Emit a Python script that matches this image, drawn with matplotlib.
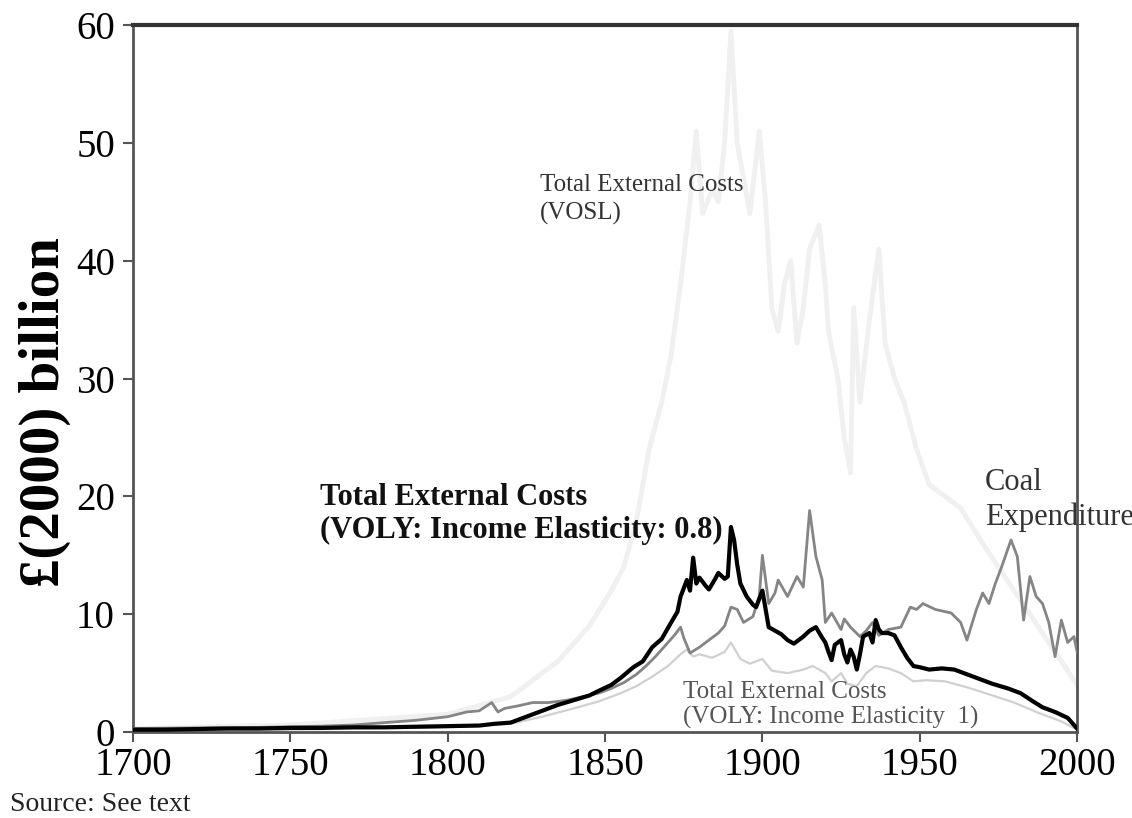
import matplotlib
matplotlib.use("Agg")
import matplotlib.pyplot as plt

# --- Total External Costs (VOLY: income elasticity 0.8), black
voly08_years = [1700, 1710, 1720, 1730, 1740, 1750, 1760, 1770, 1780, 1790,
                1800, 1810, 1815, 1820, 1825, 1830, 1835, 1840, 1845, 1848,
                1852, 1855, 1859, 1862, 1865, 1868, 1871, 1873, 1874, 1876,
                1877, 1878, 1879, 1880, 1882, 1883, 1885, 1886, 1888, 1889,
                1890, 1891, 1892, 1893, 1895, 1897, 1898, 1900, 1902, 1904,
                1906, 1908, 1910, 1913, 1915, 1917, 1919, 1920, 1921, 1922,
                1923, 1925, 1926, 1927, 1928, 1929, 1930, 1931, 1932, 1934,
                1935, 1936, 1937, 1938, 1940, 1942, 1944, 1946, 1948, 1950,
                1953, 1957, 1961, 1966, 1970, 1973, 1978, 1982, 1986, 1989,
                1993, 1997, 2000]
voly08 = [0.2, 0.2, 0.25, 0.3, 0.3, 0.35, 0.35, 0.4, 0.4, 0.45,
          0.5, 0.55, 0.7, 0.8, 1.3, 1.8, 2.3, 2.7, 3.1, 3.5,
          4.0, 4.6, 5.5, 6.0, 7.2, 7.9, 9.3, 10.2, 11.5, 12.9,
          12.0, 14.8, 12.6, 13.1, 12.4, 12.1, 13.0, 13.5, 13.0, 13.2,
          17.4, 16.3, 14.2, 12.6, 11.5, 10.8, 10.6, 12.0, 8.9, 8.6,
          8.3, 7.8, 7.5, 8.1, 8.6, 8.9, 8.0, 7.6, 6.8, 6.1,
          7.4, 7.8, 6.6, 5.9, 7.0, 6.4, 5.3, 6.6, 8.1, 8.4,
          7.6, 9.5, 8.7, 8.4, 8.4, 8.2, 7.2, 6.3, 5.6, 5.5,
          5.3, 5.4, 5.3, 4.8, 4.4, 4.1, 3.7, 3.3, 2.6, 2.1,
          1.7, 1.2, 0.3]

# --- Coal Expenditure, mid grey
coal_years = [1700, 1720, 1740, 1760, 1770, 1780, 1790, 1800, 1806, 1810,
              1814, 1816, 1818, 1822, 1827, 1832, 1838, 1843, 1848, 1852,
              1856, 1860, 1863, 1866, 1870, 1872, 1874, 1875, 1877, 1880,
              1883, 1886, 1888, 1890, 1892, 1894, 1897, 1899, 1900, 1902,
              1904, 1905, 1908, 1911, 1913, 1915, 1917, 1919, 1920, 1922,
              1925, 1926, 1928, 1931, 1933, 1935, 1937, 1940, 1944, 1947,
              1949, 1951, 1955, 1960, 1963, 1965, 1968, 1970, 1972, 1974,
              1976, 1979, 1981, 1983, 1985, 1987, 1989, 1991, 1993, 1995,
              1997, 1999, 2000]
coal = [0.3, 0.35, 0.4, 0.5, 0.6, 0.8, 1.0, 1.3, 1.7, 1.8,
        2.5, 1.7, 2.0, 2.2, 2.5, 2.5, 2.7, 3.0, 3.3, 3.7,
        4.2, 4.9, 5.6, 6.4, 7.6, 8.2, 8.9, 8.0, 6.7, 7.2,
        7.8, 8.4, 9.0, 10.6, 10.4, 9.3, 9.8, 11.5, 15.0, 10.9,
        11.8, 12.9, 11.5, 13.2, 12.3, 18.8, 14.9, 12.9, 9.3, 10.1,
        8.7, 9.6, 8.9, 8.1, 8.6, 9.3, 8.2, 8.7, 8.9, 10.6,
        10.4, 10.9, 10.4, 10.1, 9.3, 7.8, 10.4, 11.8, 10.9, 12.6,
        14.0, 16.3, 14.9, 9.5, 13.2, 11.5, 10.9, 9.3, 6.4, 9.5,
        7.6, 8.1, 6.8]

# --- Total External Costs (VOLY: income elasticity 1), light grey
voly1_years = [1700, 1750, 1800, 1820, 1830, 1840, 1848, 1855, 1860, 1865,
               1870, 1874, 1876, 1878, 1880, 1884, 1888, 1890, 1893, 1896,
               1900, 1903, 1908, 1913, 1916, 1920, 1922, 1925, 1927, 1930,
               1933, 1936, 1940, 1944, 1948, 1952, 1958, 1965, 1972, 1980,
               1988, 1995, 2000]
voly1 = [0.1, 0.2, 0.4, 0.7, 1.3, 2.0, 2.6, 3.3, 3.9, 4.7,
         5.6, 6.6, 7.0, 6.4, 6.6, 6.3, 6.8, 7.6, 6.2, 5.8,
         6.2, 5.2, 5.0, 5.3, 5.6, 5.0, 4.3, 5.0, 4.1, 3.9,
         5.0, 5.6, 5.4, 5.0, 4.3, 4.4, 4.3, 3.8, 3.2, 2.5,
         1.6, 0.9, 0.2]

# --- Total External Costs (VOSL), very faint grey
vosl_years = [1700, 1750, 1800, 1820, 1835, 1845, 1852, 1856, 1860, 1864,
              1868, 1871, 1874, 1877, 1879, 1881, 1884, 1886, 1888, 1890,
              1892, 1894, 1896, 1899, 1901, 1903, 1905, 1907, 1909, 1911,
              1913, 1915, 1918, 1920, 1921, 1924, 1926, 1928, 1929, 1931,
              1934, 1937, 1939, 1942, 1945, 1949, 1953, 1958, 1963, 1970,
              1980, 1990, 2000]
vosl = [0.3, 0.6, 1.5, 3.0, 6.0, 9.0, 12.0, 14.0, 18.0, 24.0,
        28.0, 32.0, 38.0, 45.0, 51.0, 44.0, 46.0, 45.0, 50.0, 59.5,
        50.0, 47.0, 44.0, 51.0, 45.0, 36.0, 34.0, 38.0, 40.0, 33.0,
        36.0, 41.0, 43.0, 38.0, 34.0, 30.0, 25.0, 22.0, 36.0, 28.0,
        35.0, 41.0, 33.0, 30.0, 28.0, 24.0, 21.0, 20.0, 19.0, 16.0,
        12.0, 8.0, 4.0]

x_ticks = [1700, 1750, 1800, 1850, 1900, 1950, 2000]
y_ticks = [0, 10, 20, 30, 40, 50, 60]

plt.rcParams["font.family"] = ["Liberation Serif", "DejaVu Serif"]

fig = plt.figure(figsize=(11.32, 8.18), dpi=100)
ax = fig.add_axes([0.1175, 0.1051, 0.834, 0.8643])

ax.plot(vosl_years, vosl, color="#f0f0f0", lw=3.5, zorder=1)
ax.plot(voly1_years, voly1, color="#d0d0d0", lw=1.6, zorder=2)
ax.plot(coal_years, coal, color="#858585", lw=2.0, zorder=3)
ax.plot(voly08_years, voly08, color="#000000", lw=3.0, zorder=4)

ax.set_xlim(1700, 2000)
ax.set_ylim(0, 60)
ax.set_xticks(x_ticks)
ax.set_yticks(y_ticks)
ax.tick_params(axis="both", direction="out", length=7, width=1.5,
               color="#555555", labelsize=28)
ax.tick_params(axis="x", pad=4)
ax.tick_params(axis="y", pad=6)
for s in ax.spines.values():
    s.set_color("#555555")
    s.set_linewidth(2.0)
ax.spines["top"].set_color("#333333")
ax.spines["top"].set_linewidth(3.0)

# y label placed by hand: the reference sits it a little below the axes centre
fig.text(45 / 1132, 1 - 412 / 818, "£(2000) billion", fontsize=41,
         fontweight="bold", rotation=90, ha="center", va="center")

ax.text(1759.4, 18.5, "Total External Costs\n(VOLY: Income Elasticity: 0.8)",
        fontsize=22, fontweight="bold", va="center", ha="left",
        linespacing=1.17, color="#111111")
ax.text(1829.3, 45.2, "Total External Costs\n(VOSL)", fontsize=18,
        va="center", ha="left", linespacing=1.35, color="#333333")
ax.text(1874.8, 2.3, "Total External Costs\n(VOLY: Income Elasticity  1)",
        fontsize=18, va="center", ha="left", linespacing=1.12,
        color="#555555")
ax.text(1970.7, 19.7, "Coal\nExpenditure", fontsize=22, va="center",
        ha="left", linespacing=1.25, color="#333333", clip_on=False)

fig.text(0.009, 0.008, "Source: See text", fontsize=20, color="#222222")

fig.savefig("out.png", dpi=100)
